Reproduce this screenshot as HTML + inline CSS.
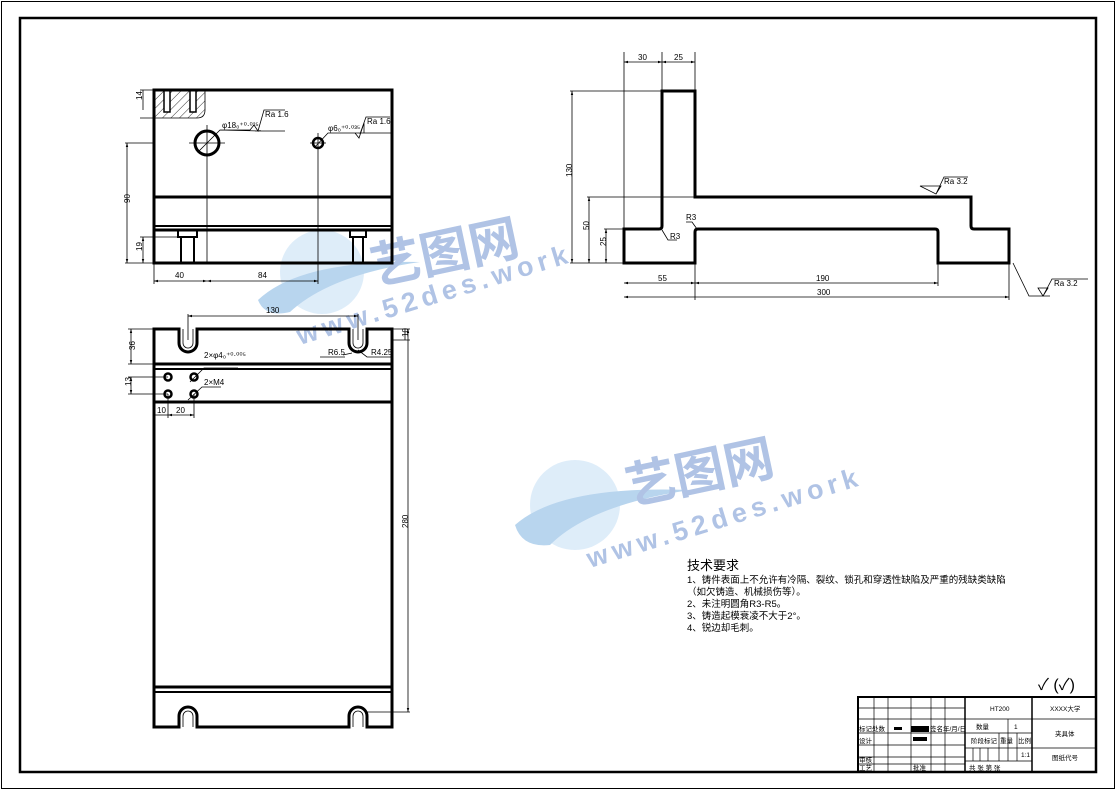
<!DOCTYPE html>
<html><head><meta charset="utf-8"><style>
html,body{margin:0;padding:0;background:#fff}
svg{display:block}
text{font-family:"Liberation Sans","Noto Sans CJK SC",sans-serif;fill:#000}
.t{stroke:#000;stroke-width:3;fill:none}
.n{stroke:#000;stroke-width:0.8;fill:none}
.d{font-size:8px}
</style></head><body>
<svg width="1116" height="790" viewBox="0 0 1116 790" xmlns="http://www.w3.org/2000/svg">
<defs>
<pattern id="h" width="6" height="6" patternUnits="userSpaceOnUse" patternTransform="rotate(45)"><line x1="0" y1="0" x2="0" y2="6" stroke="#000" stroke-width="0.8"/></pattern>
<marker id="a" markerWidth="6" markerHeight="6" refX="5" refY="3" orient="auto-start-reverse"><path d="M0,1.5L5,3L0,4.5z" fill="#000"/></marker>
</defs>
<rect x="1.5" y="1.5" width="1113" height="787" fill="none" stroke="#000" stroke-width="1"/>
<rect x="20" y="18" width="1076" height="754" fill="none" stroke="#000" stroke-width="2.5"/>

<!-- watermarks -->
<g opacity="0.55">
<circle cx="322" cy="272" r="42" fill="#9cc8ee" opacity="0.6"/>
<path d="M258,300 Q300,260 420,262 Q330,275 290,312 Q265,318 258,300z" fill="#7fb2e0"/>
<text x="375" y="285" transform="rotate(-12 375 285)" style="font-size:50px;font-weight:bold;fill:#6f93d0">艺图网</text>
<text x="300" y="345" transform="rotate(-17 300 345)" style="font-size:27px;font-weight:bold;fill:#6f93d0;letter-spacing:5px">www.52des.work</text>
<circle cx="575" cy="505" r="45" fill="#9cc8ee" opacity="0.6"/>
<path d="M515,525 Q560,485 690,490 Q590,505 550,545 Q522,548 515,525z" fill="#7fb2e0"/>
<text x="630" y="505" transform="rotate(-12 630 505)" style="font-size:50px;font-weight:bold;fill:#6f93d0">艺图网</text>
<text x="590" y="568" transform="rotate(-17 590 568)" style="font-size:27px;font-weight:bold;fill:#6f93d0;letter-spacing:5px">www.52des.work</text>
</g>

<!-- top-left view -->
<path d="M154,90 H205 V110 Q205,118 197,118 H154 Z" fill="url(#h)" stroke="#000" stroke-width="0.8"/>
<rect x="164" y="90" width="6" height="22" fill="#fff" stroke="#000" stroke-width="1.5"/>
<rect x="190" y="90" width="6" height="22" fill="#fff" stroke="#000" stroke-width="1.5"/>
<rect x="154" y="90" width="238" height="173" class="t"/>
<line x1="154" y1="197" x2="392" y2="197" class="t"/>
<line x1="154" y1="226" x2="392" y2="226" stroke="#000" stroke-width="2"/>
<line x1="154" y1="230" x2="392" y2="230" class="t"/>
<circle cx="207" cy="143" r="12" stroke="#000" stroke-width="3" fill="none"/>
<circle cx="318" cy="143" r="5" stroke="#000" stroke-width="2.5" fill="none"/>
<path d="M207,125V263M189,143H225M318,133V263M310,143H326" class="n"/>
<path d="M178,230V237H197V230M181,237V263M194,237V263" stroke="#000" stroke-width="2" fill="none"/>
<path d="M350,230V237H366V230M353,237V263M363,237V263" stroke="#000" stroke-width="2" fill="none"/>
<path d="M198,152L220,130H250L254,125L258,131L264,110H285M220,130L260,131V130M255,131H285" class="n"/>
<text x="222" y="128" class="d">φ18₀⁺⁰·⁰²⁵</text><text x="265" y="117" class="d">Ra 1.6</text>
<path d="M314,148L328,133H355L359,138L364,123V133M360,134L366,117H390M355,133H392" class="n"/>
<text x="328" y="131" class="d">φ6₀⁺⁰·⁰³⁵</text><text x="367" y="124" class="d">Ra 1.6</text>
<path d="M125,143H154M125,263H154M140,237H178M140,118H154M140,90H154" class="n"/>
<line x1="127" y1="143" x2="127" y2="263" class="n" marker-start="url(#a)" marker-end="url(#a)"/>
<line x1="143" y1="237" x2="143" y2="263" class="n" marker-start="url(#a)" marker-end="url(#a)"/>
<line x1="143" y1="90" x2="143" y2="110" class="n"/>
<text x="125" y="208" class="d" transform="rotate(-90 125 203)">90</text>
<text x="139" y="254" class="d" transform="rotate(-90 139 251)">19</text>
<text x="139" y="103" class="d" transform="rotate(-90 139 100)">14</text>
<path d="M154,263V284M318,263V284" class="n"/>
<line x1="154" y1="281" x2="207" y2="281" class="n" marker-start="url(#a)" marker-end="url(#a)"/>
<line x1="207" y1="281" x2="318" y2="281" class="n" marker-start="url(#a)" marker-end="url(#a)"/>
<text x="175" y="278" class="d">40</text><text x="258" y="278" class="d">84</text>

<!-- bottom-left view -->
<path d="M154,329H179V343A9,9 0 0 0 197,343V329H349V343A9,9 0 0 0 367,343V329H392V727H367V716A9,9 0 0 0 349,716V727H197V716A9,9 0 0 0 179,716V727H154Z" class="t"/>
<path d="M183,329V343A5,5 0 0 0 193,343V329M353,329V343A5,5 0 0 0 363,343V329M183,727V716A5,5 0 0 1 193,716V727M353,727V716A5,5 0 0 1 363,716V727" class="n"/>
<line x1="154" y1="364" x2="392" y2="364" class="t"/>
<line x1="154" y1="369" x2="392" y2="369" stroke="#000" stroke-width="2"/>
<line x1="154" y1="402" x2="392" y2="402" class="t"/>
<line x1="154" y1="687" x2="392" y2="687" class="t"/>
<line x1="154" y1="692" x2="392" y2="692" stroke="#000" stroke-width="2"/>
<g stroke="#000" stroke-width="2.5" fill="none"><circle cx="168" cy="377" r="3.5"/><circle cx="194" cy="377" r="3.5"/><circle cx="168" cy="394" r="3.5"/><circle cx="194" cy="394" r="3.5"/></g>
<path d="M188,314V340M358,314V340M188,300" class="n"/>
<line x1="188" y1="316" x2="358" y2="316" class="n" marker-start="url(#a)" marker-end="url(#a)"/>
<text x="266" y="313" class="d">130</text>
<path d="M190,382L204,368H238M188,400L202,387H221" class="n"/>
<text x="204" y="358" class="d">2×φ4₀⁺⁰·⁰⁰⁵</text><text x="204" y="385" class="d">2×M4</text>
<path d="M343,355L352,353M358,350L367,357H392M345,357H320" class="n"/>
<text x="328" y="355" class="d">R6.5</text><text x="371" y="355" class="d">R4.25</text>
<path d="M128,329H154M128,364H154M128,377H168M128,394H168M168,394V418M194,394V418M154,402V418M392,340H410M367,712H410M392,329H410" class="n"/>
<line x1="131" y1="329" x2="131" y2="364" class="n" marker-start="url(#a)" marker-end="url(#a)"/>
<line x1="131" y1="377" x2="131" y2="394" class="n" marker-start="url(#a)" marker-end="url(#a)"/>
<line x1="154" y1="415" x2="168" y2="415" class="n"/>
<line x1="168" y1="415" x2="194" y2="415" class="n" marker-start="url(#a)" marker-end="url(#a)"/>
<line x1="408" y1="329" x2="408" y2="712" class="n" marker-start="url(#a)" marker-end="url(#a)"/>
<line x1="405" y1="329" x2="405" y2="340" class="n"/>
<text x="127" y="358" class="d" transform="rotate(-90 127 350)">36</text>
<text x="127" y="390" class="d" transform="rotate(-90 127 386)">13</text>
<text x="157" y="413" class="d">10</text><text x="176" y="413" class="d">20</text>
<text x="404" y="532" class="d" transform="rotate(-90 404 528)">280</text>
<text x="405" y="340" class="d" transform="rotate(-90 405 337)">10</text>

<!-- right view -->
<path d="M624,229H659Q662,229 662,226V91H695V197H971V226Q971,229 974,229H1009V263H938V232Q938,229 935,229H698Q695,229 695,232V263H624Z" class="t"/>
<path d="M624,52V263M662,52V91M695,52V91M570,91H662M587,197H695M604,229H624M695,263V300M938,263V286M1009,263V300" class="n"/>
<line x1="624" y1="62" x2="662" y2="62" class="n" marker-start="url(#a)" marker-end="url(#a)"/>
<line x1="662" y1="62" x2="695" y2="62" class="n" marker-start="url(#a)" marker-end="url(#a)"/>
<text x="638" y="60" class="d">30</text><text x="674" y="60" class="d">25</text>
<line x1="572" y1="91" x2="572" y2="263" class="n" marker-start="url(#a)" marker-end="url(#a)"/>
<line x1="589" y1="197" x2="589" y2="263" class="n" marker-start="url(#a)" marker-end="url(#a)"/>
<line x1="606" y1="229" x2="606" y2="263" class="n" marker-start="url(#a)" marker-end="url(#a)"/>
<path d="M570,263H624" class="n"/>
<text x="568" y="181" class="d" transform="rotate(-90 568 177)">130</text>
<text x="585" y="234" class="d" transform="rotate(-90 585 230)">50</text>
<text x="602" y="250" class="d" transform="rotate(-90 602 246)">25</text>
<line x1="624" y1="283" x2="695" y2="283" class="n" marker-start="url(#a)" marker-end="url(#a)"/>
<line x1="695" y1="283" x2="938" y2="283" class="n" marker-start="url(#a)" marker-end="url(#a)"/>
<line x1="624" y1="297" x2="1009" y2="297" class="n" marker-start="url(#a)" marker-end="url(#a)"/>
<text x="658" y="281" class="d">55</text><text x="816" y="281" class="d">190</text><text x="817" y="295" class="d">300</text>
<path d="M662,230L668,240H677M697,229L692,222H686" class="n"/>
<text x="670" y="239" class="d">R3</text><text x="686" y="220" class="d">R3</text>
<path d="M920,186L941,186L936,194Z M936,194L944,177H968" class="n"/>
<text x="944" y="184" class="d">Ra 3.2</text>
<path d="M1013,263L1029,296H1050M1043,296L1038,288H1048Z M1043,296L1052,279H1088" class="n"/>
<text x="1054" y="286" class="d">Ra 3.2</text>

<!-- tech text -->
<text x="687" y="570" style="font-size:13px">技术要求</text>
<g style="font-size:9.5px">
<text x="687" y="583">1、铸件表面上不允许有冷隔、裂纹、锁孔和穿透性缺陷及严重的残缺类缺陷</text>
<text x="687" y="595">（如欠铸造、机械损伤等）。</text>
<text x="687" y="607">2、未注明圆角R3-R5。</text>
<text x="687" y="619">3、铸造起模衰凌不大于2°。</text>
<text x="687" y="631">4、锐边却毛刺。</text>
</g>
<text x="1038" y="690" style="font-size:16px">✓ (✓)</text>

<!-- title block -->
<g stroke="#000" fill="none">
<rect x="858" y="697" width="238" height="75" stroke-width="2"/>
<path d="M965,697V772M1032,697V772" stroke-width="1.5"/>
<path d="M858,708H965M858,719H965M858,733H965M858,745H965M858,757H965M858,764H965" stroke-width="0.7"/>
<path d="M874,697V772M888,697V772M911,697V772M931,697V772M945,697V772" stroke-width="0.7"/>
<path d="M965,719H1096M965,733H1032M965,748H1096M965,761H1032" stroke-width="0.7"/>
<path d="M1008,719V761M1017,733V761M999,733V761M973,748V761M980,748V761M988,748V761" stroke-width="0.7"/>
</g>
<rect x="894" y="727" width="8" height="3" fill="#000"/>
<rect x="911" y="726" width="18" height="6" fill="#000"/>
<rect x="913" y="737" width="14" height="4" fill="#000"/>
<g style="font-size:6.5px">
<text x="990" y="711">HT200</text><text x="1050" y="711">XXXX大学</text>
<text x="976" y="729">数量</text><text x="1014" y="729">1</text><text x="1055" y="736">夹具体</text>
<text x="971" y="743">阶段标记</text><text x="1000" y="743">重量</text><text x="1018" y="743">比例</text>
<text x="1021" y="757">1:1</text><text x="1052" y="760">图纸代号</text>
<text x="969" y="770">共   张     第   张</text>
<text x="859" y="731">标记处数</text><text x="930" y="731">签名年/月/日</text>
<text x="859" y="743">设计</text><text x="859" y="762">审核</text><text x="859" y="770">工艺</text><text x="913" y="770">批准</text>
</g>
</svg>
</body></html>
